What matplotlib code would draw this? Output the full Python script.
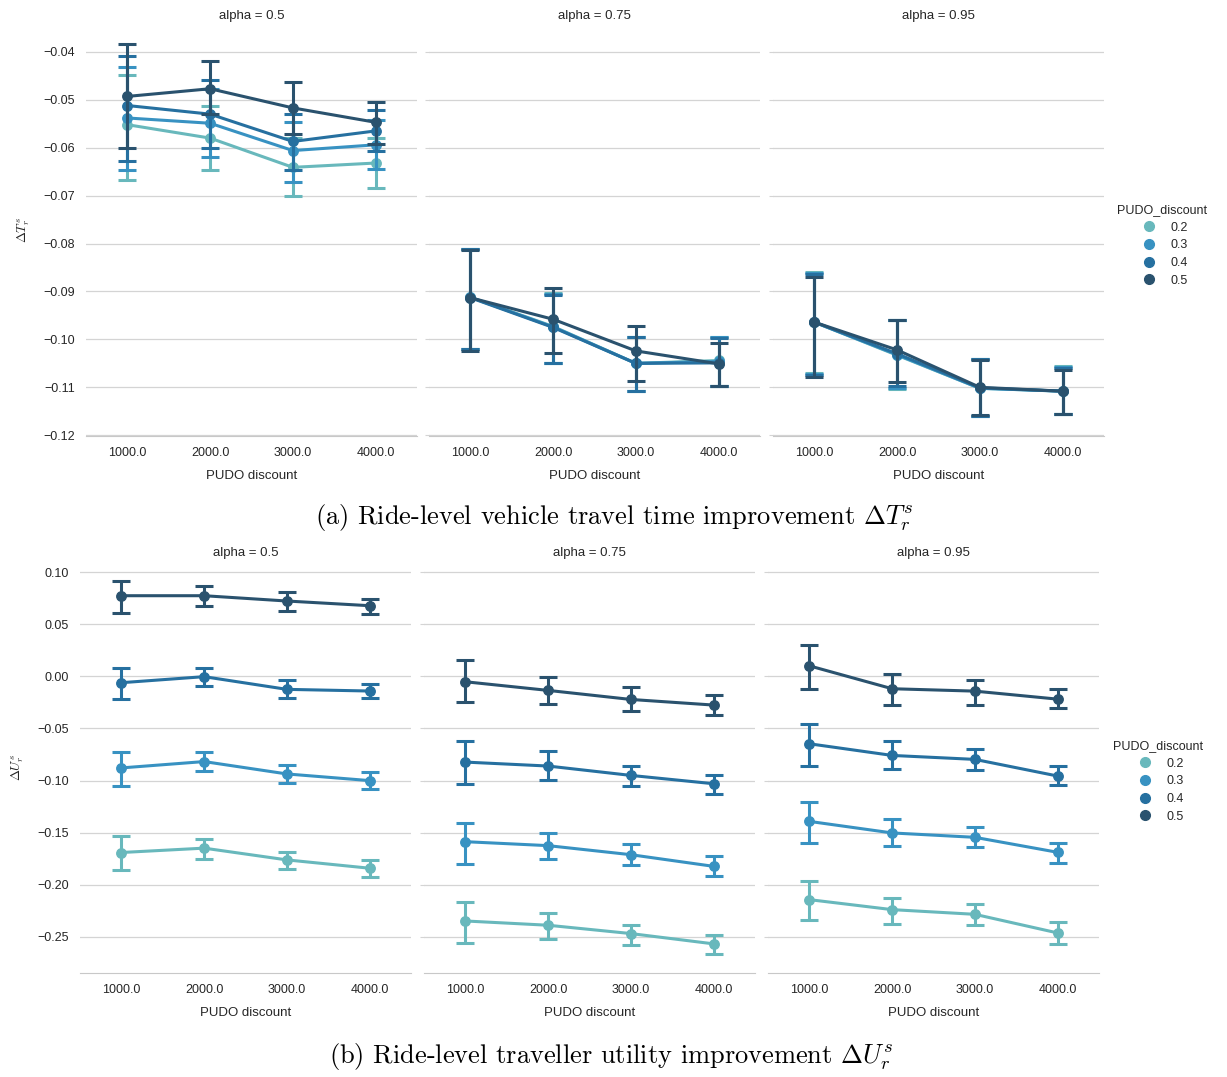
import matplotlib
matplotlib.use("Agg")
import matplotlib.pyplot as plt
from matplotlib.lines import Line2D
import numpy as np

# categories
discounts = ["1000.0", "2000.0", "3000.0", "4000.0"]
alphas = ["0.5", "0.75", "0.95"]
hue_levels = ["0.2", "0.3", "0.4", "0.5"]
hue_colors = ["#68b8bc", "#3892c2", "#2670a0", "#2a526e"]

# ride-level travel time improvement, one row per PUDO_discount level
dt_mean_050 = [[-0.0552, -0.0580, -0.0641, -0.0632],
               [-0.0538, -0.0549, -0.0606, -0.0594],
               [-0.0512, -0.0530, -0.0587, -0.0565],
               [-0.0493, -0.0477, -0.0517, -0.0547]]
dt_low_050 = [[-0.0668, -0.0647, -0.0701, -0.0684],
              [-0.0647, -0.0620, -0.0671, -0.0645],
              [-0.0627, -0.0601, -0.0647, -0.0606],
              [-0.0601, -0.0530, -0.0572, -0.0593]]
dt_high_050 = [[-0.0449, -0.0513, -0.0580, -0.0580],
               [-0.0432, -0.0477, -0.0546, -0.0543],
               [-0.0408, -0.0459, -0.0529, -0.0521],
               [-0.0384, -0.0419, -0.0462, -0.0505]]

dt_mean_075 = [[-0.0912, -0.0973, -0.1050, -0.1044],
               [-0.0912, -0.0974, -0.1050, -0.1046],
               [-0.0913, -0.0975, -0.1050, -0.1049],
               [-0.0913, -0.0958, -0.1024, -0.1051]]
dt_low_075 = [[-0.1019, -0.1049, -0.1107, -0.1097],
              [-0.1020, -0.1049, -0.1107, -0.1097],
              [-0.1021, -0.1049, -0.1107, -0.1098],
              [-0.1024, -0.1028, -0.1086, -0.1097]]
dt_high_075 = [[-0.0812, -0.0903, -0.0994, -0.0994],
               [-0.0812, -0.0905, -0.0994, -0.0996],
               [-0.0812, -0.0907, -0.0994, -0.0998],
               [-0.0814, -0.0893, -0.0971, -0.1008]]

dt_mean_095 = [[-0.0964, -0.1033, -0.1102, -0.1108],
               [-0.0964, -0.1032, -0.1102, -0.1108],
               [-0.0964, -0.1030, -0.1101, -0.1108],
               [-0.0964, -0.1022, -0.1100, -0.1108]]
dt_low_095 = [[-0.1071, -0.1104, -0.1160, -0.1156],
              [-0.1073, -0.1102, -0.1160, -0.1156],
              [-0.1075, -0.1098, -0.1160, -0.1156],
              [-0.1079, -0.1088, -0.1158, -0.1156]]
dt_high_095 = [[-0.0860, -0.0959, -0.1040, -0.1056],
               [-0.0862, -0.0959, -0.1040, -0.1058],
               [-0.0864, -0.0960, -0.1041, -0.1060],
               [-0.0869, -0.0959, -0.1042, -0.1063]]

# ride-level traveller utility improvement
du_mean_050 = [[-0.1692, -0.1650, -0.1763, -0.1843],
               [-0.0879, -0.0818, -0.0937, -0.1001],
               [-0.0060, -0.0002, -0.0124, -0.0140],
               [0.0776, 0.0776, 0.0725, 0.0680]]
du_low_050 = [[-0.1858, -0.1756, -0.1846, -0.1923],
              [-0.1055, -0.0908, -0.1020, -0.1080],
              [-0.0216, -0.0092, -0.0204, -0.0204],
              [0.0613, 0.0677, 0.0629, 0.0600]]
du_high_050 = [[-0.1538, -0.1564, -0.1689, -0.1763],
               [-0.0729, -0.0729, -0.0850, -0.0914],
               [0.0085, 0.0081, -0.0037, -0.0069],
               [0.0917, 0.0866, 0.0808, 0.0747]]

du_mean_075 = [[-0.2350, -0.2391, -0.2471, -0.2570],
               [-0.1588, -0.1626, -0.1713, -0.1825],
               [-0.0823, -0.0861, -0.0951, -0.1031],
               [-0.0051, -0.0134, -0.0221, -0.0275]]
du_low_075 = [[-0.2561, -0.2526, -0.2580, -0.2663],
              [-0.1799, -0.1754, -0.1815, -0.1921],
              [-0.1031, -0.0999, -0.1053, -0.1130],
              [-0.0250, -0.0269, -0.0330, -0.0371]]
du_high_075 = [[-0.2167, -0.2273, -0.2385, -0.2481],
               [-0.1408, -0.1505, -0.1610, -0.1722],
               [-0.0621, -0.0720, -0.0861, -0.0944],
               [0.0154, -0.0006, -0.0106, -0.0179]]

du_mean_095 = [[-0.2145, -0.2241, -0.2286, -0.2465],
               [-0.1393, -0.1504, -0.1546, -0.1690],
               [-0.0647, -0.0759, -0.0797, -0.0957],
               [0.0102, -0.0118, -0.0141, -0.0218]]
du_low_095 = [[-0.2343, -0.2378, -0.2385, -0.2567],
              [-0.1604, -0.1626, -0.1642, -0.1796],
              [-0.0858, -0.0890, -0.0900, -0.1044],
              [-0.0118, -0.0272, -0.0272, -0.0307]]
du_high_095 = [[-0.1962, -0.2129, -0.2186, -0.2362],
               [-0.1210, -0.1370, -0.1447, -0.1601],
               [-0.0461, -0.0621, -0.0701, -0.0858],
               [0.0301, 0.0026, -0.0032, -0.0122]]

top_panels = [(dt_mean_050, dt_low_050, dt_high_050),
              (dt_mean_075, dt_low_075, dt_high_075),
              (dt_mean_095, dt_low_095, dt_high_095)]
bottom_panels = [(du_mean_050, du_low_050, du_high_050),
                 (du_mean_075, du_low_075, du_high_075),
                 (du_mean_095, du_low_095, du_high_095)]

plt.rcParams['font.family'] = ['Liberation Sans', 'DejaVu Sans']
plt.rcParams['mathtext.fontset'] = 'cm'
text_col = '#262626'

W, H = 1227, 1077
fig = plt.figure(figsize=(W / 100, H / 100), dpi=100)


def add_row(lefts, width, top_px, bottom_px, panels, ylim, yticks, ylabel):
    axes = []
    x = np.arange(len(discounts))
    for i, (left, (mean, low, high)) in enumerate(zip(lefts, panels)):
        ax = fig.add_axes([left / W, 1 - bottom_px / H, width / W, (bottom_px - top_px) / H])
        for k in range(len(hue_levels)):
            m = np.array(mean[k])
            lo = np.array(low[k])
            hi = np.array(high[k])
            ax.errorbar(x, m, yerr=[m - lo, hi - m], color=hue_colors[k],
                        lw=2.2, marker='o', ms=6.8, capsize=6.8, capthick=2.2,
                        elinewidth=2.2, zorder=3 + k)
        ax.set_xlim(-0.5, 3.5)
        ax.set_ylim(*ylim)
        ax.set_yticks(yticks)
        ax.set_xticks(x)
        ax.set_xticklabels(discounts)
        ax.grid(axis='y', color='#d4d4d4', lw=0.9)
        ax.set_axisbelow(True)
        for s in ['top', 'right', 'left']:
            ax.spines[s].set_visible(False)
        ax.spines['bottom'].set_color('#c8c8c8')
        ax.tick_params(axis='x', length=0, labelsize=9, colors=text_col, pad=8)
        if i == 0:
            ax.tick_params(axis='y', length=0, labelsize=9, colors=text_col, pad=8)
            ax.set_ylabel(ylabel, fontsize=9.5, color=text_col, labelpad=8)
        else:
            ax.tick_params(axis='y', length=3, color='#d4d4d4', labelleft=False)
        ax.set_xlabel("PUDO discount", fontsize=9.5, color=text_col, labelpad=8)
        ax.set_title("alpha = " + alphas[i], fontsize=9.5, color=text_col, pad=4)
        axes.append(ax)
    return axes


add_row([86, 429, 773], 331, 25, 435.5, top_panels, (-0.12005, -0.0344),
        [-0.12, -0.11, -0.10, -0.09, -0.08, -0.07, -0.06, -0.05, -0.04], r"$\Delta T^s_r$")
add_row([80, 424, 768], 331, 562, 973, bottom_panels, (-0.285, 0.11),
        [-0.25, -0.20, -0.15, -0.10, -0.05, 0.0, 0.05, 0.10], r"$\Delta U^s_r$")

handles = [Line2D([], [], ls='none', marker='o', ms=7, color=c) for c in hue_colors]
for ytop, xl in [(204, 1117), (740, 1113)]:
    leg = fig.legend(handles, hue_levels, title="PUDO_discount", loc='upper left',
                     bbox_to_anchor=(xl / W, 1 - ytop / H), frameon=False,
                     fontsize=9, title_fontsize=9, handletextpad=0.7,
                     labelspacing=0.45, borderaxespad=0, borderpad=0)
    for t in leg.get_texts():
        t.set_color(text_col)
    leg.get_title().set_color(text_col)

fig.text(614 / W, 1 - 518 / H, r"(a) Ride-level vehicle travel time improvement $\Delta T_r^s$",
         ha='center', va='center', fontsize=19, family='cmr10')
fig.text(611 / W, 1 - 1056 / H, r"(b) Ride-level traveller utility improvement $\Delta U_r^s$",
         ha='center', va='center', fontsize=19, family='cmr10')

fig.savefig("out.png", dpi=100)
